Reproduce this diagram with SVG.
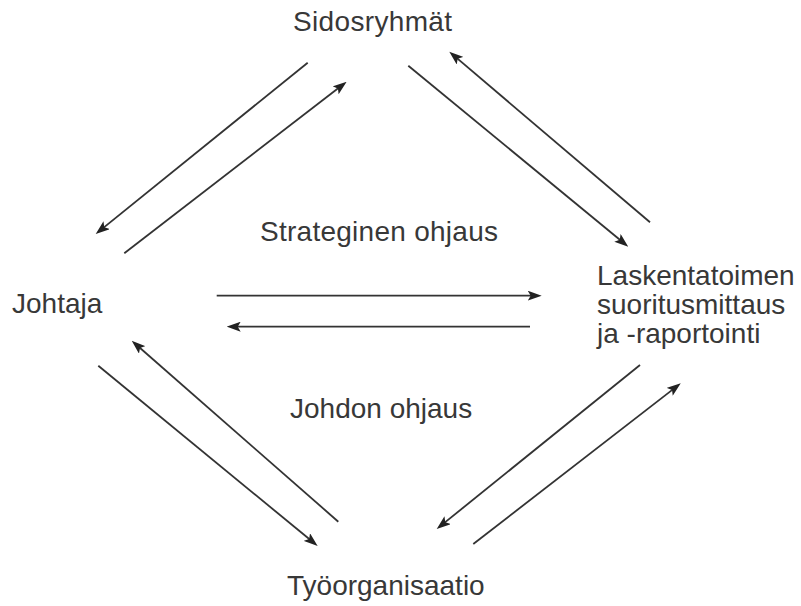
<svg xmlns="http://www.w3.org/2000/svg" width="801" height="606" viewBox="0 0 801 606">
  <style>
    .lbl { font-family: "Liberation Sans", Arial, sans-serif; font-size: 28px; fill: #383838; }
    .flow { stroke: #333; stroke-width: 1.8; fill: none; marker-end: url(#head); }
  </style>
  <defs>
    <marker id="head" viewBox="0 0 14 10" markerWidth="14" markerHeight="10" refX="9" refY="5" orient="auto" markerUnits="userSpaceOnUse">
      <path d="M0,0 L14,5 L0,10 L3,5 Z" fill="#222"/>
    </marker>
  </defs>
  <rect width="801" height="606" fill="#fff"/>

  <g id="sidosryhmat"><text class="lbl" x="293" y="31" textLength="159">Sidosryhmät</text></g>
  <g id="johtaja"><text class="lbl" x="12" y="313">Johtaja</text></g>
  <g id="laskentatoimi">
    <text class="lbl" x="597" y="285">Laskentatoimen</text>
    <text class="lbl" x="597" y="314">suoritusmittaus</text>
    <text class="lbl" x="597" y="343">ja -raportointi</text>
  </g>
  <g id="tyoorganisaatio"><text class="lbl" x="287" y="595">Työorganisaatio</text></g>
  <g id="strateginen"><text class="lbl" x="260" y="241" textLength="238">Strateginen ohjaus</text></g>
  <g id="johdon"><text class="lbl" x="290" y="418">Johdon ohjaus</text></g>

  <g id="connectors">
    <line class="flow" x1="307.7" y1="62.7" x2="99.6" y2="230.9"/>
    <line class="flow" x1="124.3" y1="253.3" x2="342.7" y2="84.8"/>
    <line class="flow" x1="408.3" y1="65.7" x2="624.4" y2="243.5"/>
    <line class="flow" x1="650" y1="222.3" x2="453.1" y2="54.9"/>
    <line class="flow" x1="216.7" y1="295.7" x2="536.7" y2="295.7"/>
    <line class="flow" x1="530" y1="326.7" x2="231.7" y2="326.7"/>
    <line class="flow" x1="98.3" y1="365.7" x2="313.8" y2="542.8"/>
    <line class="flow" x1="338.3" y1="521.7" x2="135.5" y2="344"/>
    <line class="flow" x1="640" y1="365" x2="440.6" y2="525.9"/>
    <line class="flow" x1="473.3" y1="544" x2="676.8" y2="386.4"/>
  </g>
</svg>
